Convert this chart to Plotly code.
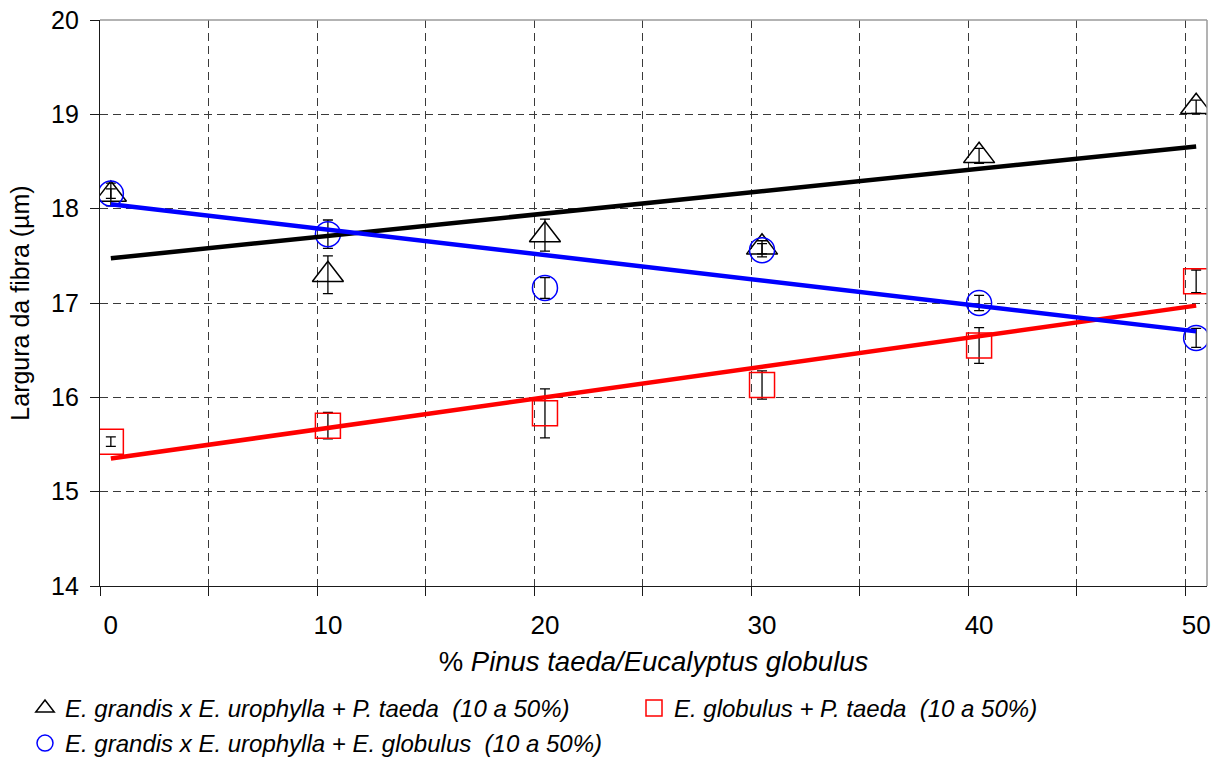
import numpy as np
import plotly.graph_objects as go

# ---- data ----
pct = [0, 10, 20, 30, 40, 50]
tick_labels = ["0", "10", "20", "30", "40", "50"]

name_tri = "<i>E. grandis x E. urophylla + P. taeda  (10 a 50%)</i>"
name_sq = "<i>E. globulus + P. taeda  (10 a 50%)</i>"
name_circ = "<i>E. grandis x E. urophylla + E. globulus  (10 a 50%)</i>"

tri_vals = [18.15, 17.30, 17.72, 17.59, 18.56, 19.08]
tri_err = [0.12, 0.20, 0.17, 0.07, 0.08, 0.07]

sq_vals = [15.53, 15.70, 15.83, 16.13, 16.55, 17.23]
sq_err = [0.05, 0.14, 0.26, 0.15, 0.19, 0.12]

circ_vals = [18.16, 17.73, 17.16, 17.56, 17.00, 16.63]
circ_err = [0.05, 0.15, 0.11, 0.07, 0.08, 0.10]

x_title = "% <i>Pinus taeda/Eucalyptus globulus</i>"
y_title = "Largura da fibra (µm)"

FONT = "Liberation Sans, Arial, sans-serif"
GRID = "#3a3a3a"
AX = "#1a1a1a"

fig = go.Figure()

series = [
    (name_tri, tri_vals, tri_err, "triangle-up-open", 27, "black", "legend"),
    (name_sq, sq_vals, sq_err, "square-open", 25, "#FF0000", "legend3"),
    (name_circ, circ_vals, circ_err, "circle-open", 25, "#0000FF", "legend2"),
]
for name, vals, err, sym, size, col, leg in series:
    fig.add_trace(go.Scatter(
        x=pct, y=vals, mode="markers", name=name, legend=leg,
        marker=dict(symbol=sym, size=size, color=col, line=dict(width=1.5, color=col)),
        error_y=dict(type="data", array=err, visible=True, color="black",
                     thickness=1.3, width=5),
    ))

# linear trend lines (least-squares fit of each series, as in the original chart)
for vals, col in [(tri_vals, "black"), (sq_vals, "#FF0000"), (circ_vals, "#0000FF")]:
    m, b = np.polyfit(pct, vals, 1)
    xs = [pct[0], pct[-1]]
    fig.add_trace(go.Scatter(
        x=xs, y=[m * xv + b for xv in xs], mode="lines",
        line=dict(color=col, width=4.5), showlegend=False, hoverinfo="skip",
    ))

def leg(x_px, top_px):
    return dict(
        orientation="h", xref="container", yref="container",
        x=x_px / 1220, y=1 - top_px / 757, xanchor="left", yanchor="top",
        font=dict(size=24, family=FONT), bgcolor="rgba(0,0,0,0)",
    )

fig.update_layout(
    width=1220, height=757,
    margin=dict(l=100, r=13, t=20, b=171, autoexpand=False),
    paper_bgcolor="white", plot_bgcolor="white",
    font=dict(family=FONT, color="black"),
    xaxis=dict(
        range=[pct[0] - 0.5, pct[-1] + 0.5], automargin=False,
        tickmode="array", tickvals=pct, ticktext=tick_labels,
        ticks="", showgrid=False, zeroline=False,
        showline=True, linecolor=AX, linewidth=1.3,
        tickfont=dict(size=26, family=FONT), ticklabelstandoff=16,
        minor=dict(tick0=pct[0] - 0.5, dtick=5, ticks="outside", ticklen=9,
                   tickcolor=AX, tickwidth=1, showgrid=True, gridcolor=GRID,
                   griddash="8px,5px", gridwidth=1),
        title=dict(text=x_title, font=dict(size=27.5, family=FONT), standoff=12),
    ),
    yaxis=dict(
        range=[14, 20], tick0=14, dtick=1, automargin=False,
        ticks="outside", ticklen=9, tickcolor=AX, tickwidth=1,
        showline=True, linecolor=AX, linewidth=1.3,
        showgrid=True, gridcolor=GRID, griddash="8px,5px", gridwidth=1,
        zeroline=False,
        tickfont=dict(size=25, family=FONT), ticklabelstandoff=6,
        title=dict(text=y_title, font=dict(size=25, family=FONT), standoff=14),
    ),
    legend=leg(25, 686),
    legend2=leg(25, 721),
    legend3=leg(634, 686),
    shapes=[
        dict(type="line", xref="paper", yref="paper", x0=0, x1=1, y0=1, y1=1,
             line=dict(color="#9a9a9a", width=1.5)),
        dict(type="line", xref="paper", yref="paper", x0=1, x1=1, y0=0, y1=1,
             line=dict(color="#9a9a9a", width=1.5)),
    ],
)

fig.write_html("out.html")
